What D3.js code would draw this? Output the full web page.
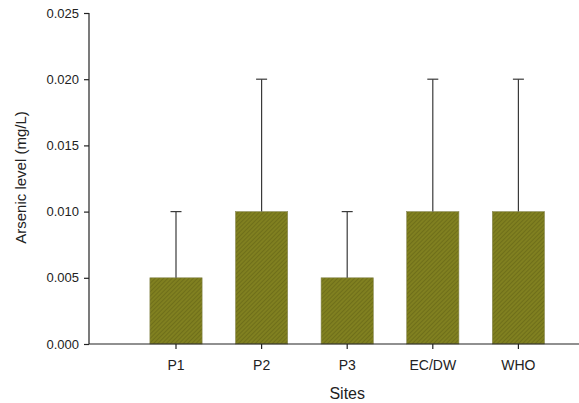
<!DOCTYPE html>
<html><head><meta charset="utf-8">
<script src="https://cdn.jsdelivr.net/npm/d3@7"></script>
<style>body{margin:0;background:#fff}svg{display:block}text{font-family:"Liberation Sans",Arial,sans-serif;fill:#222}</style>
</head><body>
<svg id="c" width="579" height="403"></svg>
<script>
const categories = ["P1","P2","P3","EC/DW","WHO"];
const values = [0.005,0.010,0.005,0.010,0.010];
const upperErr = [0.010,0.020,0.010,0.020,0.020];
const yTicks = [0.000,0.005,0.010,0.015,0.020,0.025];

const svg = d3.select("#c");
const defs = svg.append("defs");
const pat = defs.append("pattern").attr("id","hatch").attr("patternUnits","userSpaceOnUse")
  .attr("width",3).attr("height",3).attr("patternTransform","rotate(45)");
pat.append("rect").attr("width",3).attr("height",3).attr("fill","#808020");
pat.append("rect").attr("width",1).attr("height",3).attr("fill","#6f6f1a");

const axisX = 89, axisBottom = 344, axisTop = 13;
const x = d3.scaleBand().domain(categories).range([133.2,561.2]).paddingInner(0.39).paddingOuter(0.195);
const y = d3.scaleLinear().domain([0,0.025]).range([axisBottom,axisTop]);

// bars
svg.selectAll("rect.bar").data(categories).join("rect").attr("class","bar")
  .attr("x",d=>x(d)).attr("width",x.bandwidth())
  .attr("y",(d,i)=>y(values[i])).attr("height",(d,i)=>y(0)-y(values[i]))
  .attr("fill","url(#hatch)").attr("stroke","#8a8a55").attr("stroke-width",0.6);

// error bars
const eg = svg.append("g").attr("stroke","#3a3a3a").attr("stroke-width",1.2);
categories.forEach((c,i)=>{
  const cx = x(c)+x.bandwidth()/2;
  eg.append("line").attr("x1",cx).attr("x2",cx).attr("y1",y(values[i])).attr("y2",y(upperErr[i]));
  eg.append("line").attr("x1",cx-5.5).attr("x2",cx+5.5).attr("y1",y(upperErr[i])).attr("y2",y(upperErr[i]));
});

// y axis
const yAxis = d3.axisLeft(y).tickValues(yTicks).tickFormat(d3.format(".3f")).tickSize(5).tickPadding(5);
const gy = svg.append("g").attr("transform",`translate(${axisX},0)`).call(yAxis);
gy.select(".domain").attr("d",`M0,${axisTop}V${axisBottom}`);
gy.selectAll("text").style("font-size","13px").style("font-family","Liberation Sans, Arial, sans-serif").attr("fill","#222");
gy.selectAll("line,path").attr("stroke","#222").attr("stroke-width",1.2);

// x axis
const xAxis = d3.axisBottom(x).tickSize(5).tickPadding(11);
const gx = svg.append("g").attr("transform",`translate(0,${axisBottom})`).call(xAxis);
gx.select(".domain").attr("d",`M${axisX},0H579`);
gx.selectAll("text").style("font-size","14px").style("font-family","Liberation Sans, Arial, sans-serif").attr("fill","#222");
gx.selectAll("line,path").attr("stroke","#222").attr("stroke-width",1.2);

// titles
svg.append("text").attr("x",(x.range()[0]+x.range()[1])/2).attr("y",399).attr("text-anchor","middle")
  .style("font-size","16px").text("Sites");
svg.append("text").attr("transform",`translate(26,${(axisTop+axisBottom)/2 - 1}) rotate(-90)`).attr("text-anchor","middle")
  .style("font-size","15px").text("Arsenic level (mg/L)");
</script>
</body></html>
